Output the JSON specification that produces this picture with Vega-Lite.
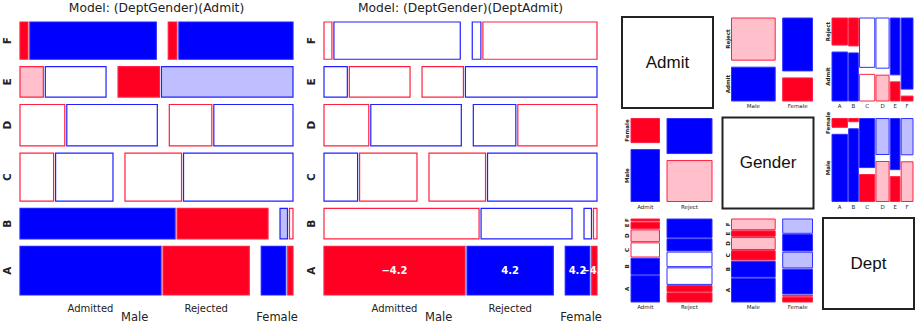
{
  "$schema": "https://vega.github.io/schema/vega-lite/v6.json",
  "background": "white",
  "padding": 0,
  "spacing": 0,
  "bounds": "flush",
  "config": {"view": {"stroke": null}, "font": "DejaVu Sans"},
  "resolve": {"scale": {"x": "independent", "y": "independent"}},
  "datasets": {
    "ucb": [
      {"Dept": "A", "Gender": "Male", "Admit": "Admitted", "n": 512, "r1": 10.74, "r2": -4.15},
      {"Dept": "A", "Gender": "Male", "Admit": "Rejected", "n": 313, "r1": -8.55, "r2": 4.15},
      {"Dept": "A", "Gender": "Female", "Admit": "Admitted", "n": 89, "r1": 7.28, "r2": 4.15},
      {"Dept": "A", "Gender": "Female", "Admit": "Rejected", "n": 19, "r1": -5.80, "r2": -4.15},
      {"Dept": "B", "Gender": "Male", "Admit": "Admitted", "n": 353, "r1": 9.21, "r2": -0.50},
      {"Dept": "B", "Gender": "Male", "Admit": "Rejected", "n": 207, "r1": -7.34, "r2": 0.50},
      {"Dept": "B", "Gender": "Female", "Admit": "Admitted", "n": 17, "r1": 2.35, "r2": 0.50},
      {"Dept": "B", "Gender": "Female", "Admit": "Rejected", "n": 8, "r1": -1.87, "r2": -0.50},
      {"Dept": "C", "Gender": "Male", "Admit": "Admitted", "n": 120, "r1": -0.54, "r2": 0.87},
      {"Dept": "C", "Gender": "Male", "Admit": "Rejected", "n": 205, "r1": 0.42, "r2": -0.87},
      {"Dept": "C", "Gender": "Female", "Admit": "Admitted", "n": 202, "r1": -1.84, "r2": -0.87},
      {"Dept": "C", "Gender": "Female", "Admit": "Rejected", "n": 391, "r1": 1.47, "r2": 0.87},
      {"Dept": "D", "Gender": "Male", "Admit": "Admitted", "n": 138, "r1": -1.86, "r2": -0.55},
      {"Dept": "D", "Gender": "Male", "Admit": "Rejected", "n": 279, "r1": 1.48, "r2": 0.55},
      {"Dept": "D", "Gender": "Female", "Admit": "Admitted", "n": 131, "r1": -1.20, "r2": 0.55},
      {"Dept": "D", "Gender": "Female", "Admit": "Rejected", "n": 244, "r1": 0.95, "r2": -0.55},
      {"Dept": "E", "Gender": "Male", "Admit": "Admitted", "n": 53, "r1": -2.45, "r2": 1.00},
      {"Dept": "E", "Gender": "Male", "Admit": "Rejected", "n": 138, "r1": 1.95, "r2": -1.00},
      {"Dept": "E", "Gender": "Female", "Admit": "Admitted", "n": 94, "r1": -4.73, "r2": -1.00},
      {"Dept": "E", "Gender": "Female", "Admit": "Rejected", "n": 299, "r1": 3.76, "r2": 1.00},
      {"Dept": "F", "Gender": "Male", "Admit": "Admitted", "n": 22, "r1": -10.19, "r2": -0.62},
      {"Dept": "F", "Gender": "Male", "Admit": "Rejected", "n": 351, "r1": 8.12, "r2": 0.62},
      {"Dept": "F", "Gender": "Female", "Admit": "Admitted", "n": 24, "r1": -9.41, "r2": 0.62},
      {"Dept": "F", "Gender": "Female", "Admit": "Rejected", "n": 317, "r1": 7.49, "r2": -0.62}
    ],
    "pairs": [
      {"v1": "Admit", "c1": "Admit", "v2": "Gender", "c2": "Male", "n": 1198, "r": 4.78},
      {"v1": "Admit", "c1": "Reject", "v2": "Gender", "c2": "Male", "n": 1493, "r": -3.81},
      {"v1": "Admit", "c1": "Admit", "v2": "Gender", "c2": "Female", "n": 557, "r": -5.79},
      {"v1": "Admit", "c1": "Reject", "v2": "Gender", "c2": "Female", "n": 1278, "r": 4.61},
      {"v1": "Admit", "c1": "Admit", "v2": "Dept", "c2": "A", "n": 601, "r": 12.58},
      {"v1": "Admit", "c1": "Reject", "v2": "Dept", "c2": "A", "n": 332, "r": -10.01},
      {"v1": "Admit", "c1": "Admit", "v2": "Dept", "c2": "B", "n": 370, "r": 9.50},
      {"v1": "Admit", "c1": "Reject", "v2": "Dept", "c2": "B", "n": 215, "r": -7.56},
      {"v1": "Admit", "c1": "Admit", "v2": "Dept", "c2": "C", "n": 322, "r": -1.80},
      {"v1": "Admit", "c1": "Reject", "v2": "Dept", "c2": "C", "n": 596, "r": 1.43},
      {"v1": "Admit", "c1": "Admit", "v2": "Dept", "c2": "D", "n": 269, "r": -2.18},
      {"v1": "Admit", "c1": "Reject", "v2": "Dept", "c2": "D", "n": 523, "r": 1.73},
      {"v1": "Admit", "c1": "Admit", "v2": "Dept", "c2": "E", "n": 147, "r": -5.28},
      {"v1": "Admit", "c1": "Reject", "v2": "Dept", "c2": "E", "n": 437, "r": 4.21},
      {"v1": "Admit", "c1": "Admit", "v2": "Dept", "c2": "F", "n": 46, "r": -13.88},
      {"v1": "Admit", "c1": "Reject", "v2": "Dept", "c2": "F", "n": 668, "r": 11.05},
      {"v1": "Gender", "c1": "Male", "v2": "Dept", "c2": "A", "n": 825, "r": 11.48},
      {"v1": "Gender", "c1": "Female", "v2": "Dept", "c2": "A", "n": 108, "r": -13.90},
      {"v1": "Gender", "c1": "Male", "v2": "Dept", "c2": "B", "n": 560, "r": 11.38},
      {"v1": "Gender", "c1": "Female", "v2": "Dept", "c2": "B", "n": 25, "r": -13.78},
      {"v1": "Gender", "c1": "Male", "v2": "Dept", "c2": "C", "n": 325, "r": -9.45},
      {"v1": "Gender", "c1": "Female", "v2": "Dept", "c2": "C", "n": 593, "r": 11.44},
      {"v1": "Gender", "c1": "Male", "v2": "Dept", "c2": "D", "n": 417, "r": -2.48},
      {"v1": "Gender", "c1": "Female", "v2": "Dept", "c2": "D", "n": 375, "r": 3.01},
      {"v1": "Gender", "c1": "Male", "v2": "Dept", "c2": "E", "n": 191, "r": -8.38},
      {"v1": "Gender", "c1": "Female", "v2": "Dept", "c2": "E", "n": 393, "r": 10.15},
      {"v1": "Gender", "c1": "Male", "v2": "Dept", "c2": "F", "n": 373, "r": -2.50},
      {"v1": "Gender", "c1": "Female", "v2": "Dept", "c2": "F", "n": 341, "r": 3.03}
    ],
    "vars": [{"var": "Admit"}, {"var": "Gender"}, {"var": "Dept"}]
  },
  "hconcat": [
    {
      "width": 308, "height": 324,
      "layer": [
        {
          "data": {"name": "ucb"},
          "transform": [
            {"calculate": "indexof(['A','B','C','D','E','F'], datum.Dept)", "as": "d"},
            {"calculate": "(datum.Gender == 'Female' ? 2 : 0) + (datum.Admit == 'Rejected' ? 1 : 0)", "as": "co"},
            {"joinaggregate": [{"op": "sum", "field": "n", "as": "dtot"}], "groupby": ["Dept"]},
            {"joinaggregate": [{"op": "sum", "field": "n", "as": "tot"}]},
            {"window": [{"op": "sum", "field": "n", "as": "cum"}], "groupby": ["Dept"], "sort": [{"field": "co"}]},
            {"window": [{"op": "sum", "field": "n", "as": "cumAll"}], "sort": [{"field": "d"}, {"field": "co"}]},
            {"calculate": "datum.cumAll - datum.n", "as": "bAll"},
            {"joinaggregate": [{"op": "min", "field": "bAll", "as": "dstart"}], "groupby": ["Dept"]},
            {"calculate": "(datum.cum - datum.n) / datum.dtot * 257 + (datum.co >= 2 ? 14 : 0) + (datum.co % 2) * 2", "as": "x0"},
            {"calculate": "datum.x0 + datum.n / datum.dtot * 257", "as": "x1"},
            {"calculate": "273 - datum.dstart / datum.tot * 236 - datum.d * 7.4", "as": "y1"},
            {"calculate": "datum.y1 - datum.dtot / datum.tot * 236", "as": "y0"},
            {"calculate": "(datum.x0 + datum.x1) / 2", "as": "xm"},
            {"calculate": "(datum.y0 + datum.y1) / 2", "as": "ym"},
            {"joinaggregate": [{"op": "min", "field": "x0", "as": "gx0"}, {"op": "max", "field": "x1", "as": "gx1"}], "groupby": ["Dept", "Gender"]},
            {"calculate": "(datum.gx0 + datum.gx1) / 2", "as": "gm"}
          ],
          "layer": [
            {
              "mark": {"type": "rect", "strokeWidth": 1.2},
              "encoding": {
                "x": {"field": "x0", "type": "quantitative", "scale": {"domain": [-20, 288], "nice": false, "zero": false}, "axis": null},
                "x2": {"field": "x1"},
                "y": {"field": "y0", "type": "quantitative", "scale": {"domain": [-22, 302], "reverse": true, "nice": false, "zero": false}, "axis": null},
                "y2": {"field": "y1"},
                "fill": {"field": "r1", "type": "quantitative", "scale": {"type": "threshold", "domain": [-4, -2, 2, 4], "range": ["#FF0022", "#FFC0CB", "#FFFFFF", "#BFBFFF", "#0000FF"]}, "legend": null},
                "stroke": {"condition": {"test": "datum.r1 < 0", "value": "#FF2040"}, "value": "#2020FF"},
                "strokeDash": {"condition": {"test": "datum.r1 < 0", "value": [12, 2]}, "value": [1, 0]}
              }
            },
            {
              "transform": [{"filter": "datum.co == 0"}],
              "mark": {"type": "text", "angle": 270, "fontSize": 10.5, "fontWeight": "bold", "color": "#222"},
              "encoding": {
                "x": {"datum": -12, "type": "quantitative", "scale": {"domain": [-20, 288], "nice": false, "zero": false}, "axis": null},
                "y": {"field": "ym", "type": "quantitative", "scale": {"domain": [-22, 302], "reverse": true, "nice": false, "zero": false}, "axis": null},
                "text": {"field": "Dept"}
              }
            },
            {
              "transform": [{"filter": "datum.Dept == 'A' && datum.Gender == 'Male'"}],
              "mark": {"type": "text", "fontSize": 10, "color": "#222"},
              "encoding": {
                "x": {"field": "xm", "type": "quantitative", "scale": {"domain": [-20, 288], "nice": false, "zero": false}, "axis": null},
                "y": {"datum": 287, "type": "quantitative", "scale": {"domain": [-22, 302], "reverse": true, "nice": false, "zero": false}, "axis": null},
                "text": {"field": "Admit"}
              }
            },
            {
              "transform": [{"filter": "datum.Dept == 'A' && datum.Admit == 'Admitted'"}],
              "mark": {"type": "text", "fontSize": 11.5, "color": "#222"},
              "encoding": {
                "x": {"field": "gm", "type": "quantitative", "scale": {"domain": [-20, 288], "nice": false, "zero": false}, "axis": null},
                "y": {"datum": 296, "type": "quantitative", "scale": {"domain": [-22, 302], "reverse": true, "nice": false, "zero": false}, "axis": null},
                "text": {"field": "Gender"}
              }
            }
          ]
        },
        {
          "data": {"values": [{"t": "Model: (DeptGender)(Admit)"}]},
          "mark": {"type": "text", "fontSize": 12.3, "color": "#222"},
          "encoding": {
            "x": {"datum": 136.5, "type": "quantitative", "scale": {"domain": [-20, 288], "nice": false, "zero": false}, "axis": null},
            "y": {"datum": -14, "type": "quantitative", "scale": {"domain": [-22, 302], "reverse": true, "nice": false, "zero": false}, "axis": null},
            "text": {"field": "t"}
          }
        }
      ]
    },
    {
      "width": 310, "height": 324,
      "layer": [
        {
          "data": {"name": "ucb"},
          "transform": [
            {"calculate": "indexof(['A','B','C','D','E','F'], datum.Dept)", "as": "d"},
            {"calculate": "(datum.Gender == 'Female' ? 2 : 0) + (datum.Admit == 'Rejected' ? 1 : 0)", "as": "co"},
            {"joinaggregate": [{"op": "sum", "field": "n", "as": "dtot"}], "groupby": ["Dept"]},
            {"joinaggregate": [{"op": "sum", "field": "n", "as": "tot"}]},
            {"window": [{"op": "sum", "field": "n", "as": "cum"}], "groupby": ["Dept"], "sort": [{"field": "co"}]},
            {"window": [{"op": "sum", "field": "n", "as": "cumAll"}], "sort": [{"field": "d"}, {"field": "co"}]},
            {"calculate": "datum.cumAll - datum.n", "as": "bAll"},
            {"joinaggregate": [{"op": "min", "field": "bAll", "as": "dstart"}], "groupby": ["Dept"]},
            {"calculate": "(datum.cum - datum.n) / datum.dtot * 257 + (datum.co >= 2 ? 14 : 0) + (datum.co % 2) * 2", "as": "x0"},
            {"calculate": "datum.x0 + datum.n / datum.dtot * 257", "as": "x1"},
            {"calculate": "273 - datum.dstart / datum.tot * 236 - datum.d * 7.4", "as": "y1"},
            {"calculate": "datum.y1 - datum.dtot / datum.tot * 236", "as": "y0"},
            {"calculate": "(datum.x0 + datum.x1) / 2", "as": "xm"},
            {"calculate": "(datum.y0 + datum.y1) / 2", "as": "ym"},
            {"joinaggregate": [{"op": "min", "field": "x0", "as": "gx0"}, {"op": "max", "field": "x1", "as": "gx1"}], "groupby": ["Dept", "Gender"]},
            {"calculate": "(datum.gx0 + datum.gx1) / 2", "as": "gm"}
          ],
          "layer": [
            {
              "mark": {"type": "rect", "strokeWidth": 1.2},
              "encoding": {
                "x": {"field": "x0", "type": "quantitative", "scale": {"domain": [-16, 294], "nice": false, "zero": false}, "axis": null},
                "x2": {"field": "x1"},
                "y": {"field": "y0", "type": "quantitative", "scale": {"domain": [-22, 302], "reverse": true, "nice": false, "zero": false}, "axis": null},
                "y2": {"field": "y1"},
                "fill": {"field": "r2", "type": "quantitative", "scale": {"type": "threshold", "domain": [-4, -2, 2, 4], "range": ["#FF0022", "#FFC0CB", "#FFFFFF", "#BFBFFF", "#0000FF"]}, "legend": null},
                "stroke": {"condition": {"test": "datum.r2 < 0", "value": "#FF2040"}, "value": "#2020FF"},
                "strokeDash": {"condition": {"test": "datum.r2 < 0", "value": [12, 2]}, "value": [1, 0]}
              }
            },
            {
              "transform": [{"filter": "datum.Dept == 'A'"}],
              "mark": {"type": "text", "fontSize": 10, "fontWeight": "bold", "color": "white"},
              "encoding": {
                "x": {"field": "xm", "type": "quantitative", "scale": {"domain": [-16, 294], "nice": false, "zero": false}, "axis": null},
                "y": {"field": "ym", "type": "quantitative", "scale": {"domain": [-22, 302], "reverse": true, "nice": false, "zero": false}, "axis": null},
                "text": {"field": "r2", "format": ".1f"}
              }
            },
            {
              "transform": [{"filter": "datum.co == 0"}],
              "mark": {"type": "text", "angle": 270, "fontSize": 10.5, "fontWeight": "bold", "color": "#222"},
              "encoding": {
                "x": {"datum": -12, "type": "quantitative", "scale": {"domain": [-16, 294], "nice": false, "zero": false}, "axis": null},
                "y": {"field": "ym", "type": "quantitative", "scale": {"domain": [-22, 302], "reverse": true, "nice": false, "zero": false}, "axis": null},
                "text": {"field": "Dept"}
              }
            },
            {
              "transform": [{"filter": "datum.Dept == 'A' && datum.Gender == 'Male'"}],
              "mark": {"type": "text", "fontSize": 10, "color": "#222"},
              "encoding": {
                "x": {"field": "xm", "type": "quantitative", "scale": {"domain": [-16, 294], "nice": false, "zero": false}, "axis": null},
                "y": {"datum": 287, "type": "quantitative", "scale": {"domain": [-22, 302], "reverse": true, "nice": false, "zero": false}, "axis": null},
                "text": {"field": "Admit"}
              }
            },
            {
              "transform": [{"filter": "datum.Dept == 'A' && datum.Admit == 'Admitted'"}],
              "mark": {"type": "text", "fontSize": 11.5, "color": "#222"},
              "encoding": {
                "x": {"field": "gm", "type": "quantitative", "scale": {"domain": [-16, 294], "nice": false, "zero": false}, "axis": null},
                "y": {"datum": 296, "type": "quantitative", "scale": {"domain": [-22, 302], "reverse": true, "nice": false, "zero": false}, "axis": null},
                "text": {"field": "Gender"}
              }
            }
          ]
        },
        {
          "data": {"values": [{"t": "Model: (DeptGender)(DeptAdmit)"}]},
          "mark": {"type": "text", "fontSize": 12.3, "color": "#222"},
          "encoding": {
            "x": {"datum": 136.5, "type": "quantitative", "scale": {"domain": [-16, 294], "nice": false, "zero": false}, "axis": null},
            "y": {"datum": -14, "type": "quantitative", "scale": {"domain": [-22, 302], "reverse": true, "nice": false, "zero": false}, "axis": null},
            "text": {"field": "t"}
          }
        }
      ]
    },
    {
      "width": 306, "height": 324,
      "layer": [
        {
          "data": {"name": "pairs"},
          "transform": [
            {"fold": ["v1", "v2"], "as": ["k", "xv"]},
            {"calculate": "datum.k == 'v1' ? datum.v2 : datum.v1", "as": "yv"},
            {"calculate": "datum.k == 'v1' ? datum.c1 : datum.c2", "as": "xc"},
            {"calculate": "datum.k == 'v1' ? datum.c2 : datum.c1", "as": "yc"},
            {"calculate": "indexof(['Admit','Gender','Dept'], datum.xv)", "as": "pc"},
            {"calculate": "indexof(['Admit','Gender','Dept'], datum.yv)", "as": "pr"},
            {"calculate": "indexof(['Admit','Reject','Male','Female','A','B','C','D','E','F'], datum.xc)", "as": "xo"},
            {"calculate": "indexof(['Admit','Reject','Male','Female','A','B','C','D','E','F'], datum.yc)", "as": "yo"},
            {"joinaggregate": [{"op": "sum", "field": "n", "as": "tot"}], "groupby": ["xv", "yv"]},
            {"joinaggregate": [{"op": "sum", "field": "n", "as": "ctot"}], "groupby": ["xv", "yv", "xc"]},
            {"window": [{"op": "sum", "field": "n", "as": "cum"}], "groupby": ["xv", "yv"], "sort": [{"field": "xo"}, {"field": "yo"}]},
            {"window": [{"op": "dense_rank", "as": "xr"}], "groupby": ["xv", "yv"], "sort": [{"field": "xo"}]},
            {"calculate": "datum.cum - datum.n", "as": "b"},
            {"joinaggregate": [{"op": "min", "field": "b", "as": "cstart"}], "groupby": ["xv", "yv", "xc"]},
            {"window": [{"op": "sum", "field": "n", "as": "ycum"}, {"op": "row_number", "as": "yr"}], "groupby": ["xv", "yv", "xc"], "sort": [{"field": "yo"}]},
            {"joinaggregate": [{"op": "max", "field": "xr", "as": "ncol"}, {"op": "max", "field": "yr", "as": "nrow"}], "groupby": ["xv", "yv"]},
            {"calculate": "datum.xv == 'Dept' ? 1.2 : 7.5", "as": "gx"},
            {"calculate": "datum.yv == 'Dept' ? 1.2 : 7", "as": "gy"},
            {"calculate": "4 + datum.pc * 100.5", "as": "cx"},
            {"calculate": "17 + datum.pr * 100.5", "as": "cy"},
            {"calculate": "81 - datum.gx * (datum.ncol - 1)", "as": "wx"},
            {"calculate": "83 - datum.gy * (datum.nrow - 1)", "as": "hy"},
            {"calculate": "datum.cx + 9 + datum.cstart / datum.tot * datum.wx + (datum.xr - 1) * datum.gx", "as": "x0"},
            {"calculate": "datum.x0 + datum.ctot / datum.tot * datum.wx", "as": "x1"},
            {"calculate": "datum.cy + 84 - (datum.ycum - datum.n) / datum.ctot * datum.hy - (datum.yr - 1) * datum.gy", "as": "y1"},
            {"calculate": "datum.y1 - datum.n / datum.ctot * datum.hy", "as": "y0"},
            {"calculate": "(datum.x0 + datum.x1) / 2", "as": "xm"},
            {"calculate": "(datum.y0 + datum.y1) / 2", "as": "ym"},
            {"calculate": "datum.cy + 89", "as": "lby"},
            {"calculate": "datum.cx + 5", "as": "lbx"}
          ],
          "layer": [
            {
              "mark": {"type": "rect", "strokeWidth": 1},
              "encoding": {
                "x": {"field": "x0", "type": "quantitative", "scale": {"domain": [0, 306], "nice": false, "zero": false}, "axis": null},
                "x2": {"field": "x1"},
                "y": {"field": "y0", "type": "quantitative", "scale": {"domain": [0, 324], "reverse": true, "nice": false, "zero": false}, "axis": null},
                "y2": {"field": "y1"},
                "fill": {"field": "r", "type": "quantitative", "scale": {"type": "threshold", "domain": [-4, -2, 2, 4], "range": ["#FF0022", "#FFC0CB", "#FFFFFF", "#BFBFFF", "#0000FF"]}, "legend": null},
                "stroke": {"condition": {"test": "datum.r < 0", "value": "#FF2040"}, "value": "#3030FF"},
                "strokeDash": {"condition": {"test": "datum.r < 0", "value": [12, 2]}, "value": [1, 0]}
              }
            },
            {
              "transform": [{"filter": "datum.yr == 1"}],
              "mark": {"type": "text", "fontSize": 5.5, "color": "#222"},
              "encoding": {
                "x": {"field": "xm", "type": "quantitative", "scale": {"domain": [0, 306], "nice": false, "zero": false}, "axis": null},
                "y": {"field": "lby", "type": "quantitative", "scale": {"domain": [0, 324], "reverse": true, "nice": false, "zero": false}, "axis": null},
                "text": {"field": "xc"}
              }
            },
            {
              "transform": [{"filter": "datum.xr == 1"}],
              "mark": {"type": "text", "fontSize": 5.5, "fontWeight": "bold", "angle": 270, "color": "#222"},
              "encoding": {
                "x": {"field": "lbx", "type": "quantitative", "scale": {"domain": [0, 306], "nice": false, "zero": false}, "axis": null},
                "y": {"field": "ym", "type": "quantitative", "scale": {"domain": [0, 324], "reverse": true, "nice": false, "zero": false}, "axis": null},
                "text": {"field": "yc"}
              }
            }
          ]
        },
        {
          "data": {"name": "vars"},
          "transform": [
            {"calculate": "indexof(['Admit','Gender','Dept'], datum.var)", "as": "i"},
            {"calculate": "4 + datum.i * 100.5", "as": "bx0"},
            {"calculate": "datum.bx0 + 91", "as": "bx1"},
            {"calculate": "17 + datum.i * 100.5", "as": "by0"},
            {"calculate": "datum.by0 + 91", "as": "by1"},
            {"calculate": "datum.bx0 + 45.5", "as": "bxm"},
            {"calculate": "datum.by0 + 45.5", "as": "bym"}
          ],
          "layer": [
            {
              "mark": {"type": "rect", "fill": "white", "stroke": "#222", "strokeWidth": 2},
              "encoding": {
                "x": {"field": "bx0", "type": "quantitative", "scale": {"domain": [0, 306], "nice": false, "zero": false}, "axis": null},
                "x2": {"field": "bx1"},
                "y": {"field": "by0", "type": "quantitative", "scale": {"domain": [0, 324], "reverse": true, "nice": false, "zero": false}, "axis": null},
                "y2": {"field": "by1"}
              }
            },
            {
              "mark": {"type": "text", "fontSize": 17, "font": "Liberation Sans", "color": "#111"},
              "encoding": {
                "x": {"field": "bxm", "type": "quantitative", "scale": {"domain": [0, 306], "nice": false, "zero": false}, "axis": null},
                "y": {"field": "bym", "type": "quantitative", "scale": {"domain": [0, 324], "reverse": true, "nice": false, "zero": false}, "axis": null},
                "text": {"field": "var"}
              }
            }
          ]
        }
      ]
    }
  ]
}
